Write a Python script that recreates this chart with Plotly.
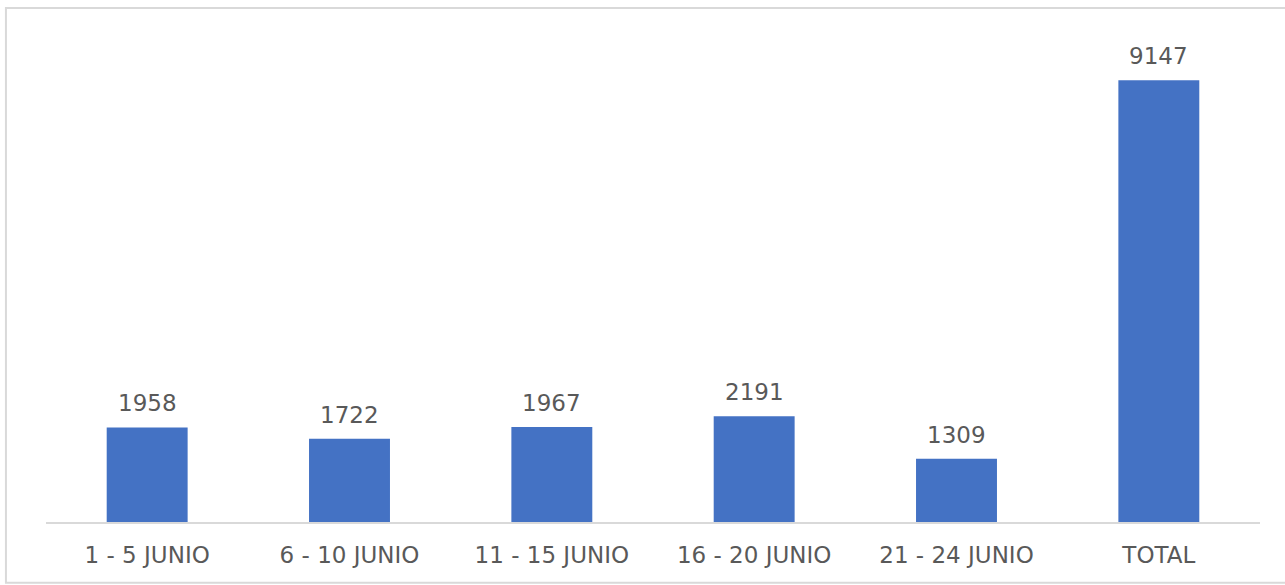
import plotly.graph_objects as go

categories = ["1 - 5 JUNIO", "6 - 10 JUNIO", "11 - 15 JUNIO", "16 - 20 JUNIO", "21 - 24 JUNIO", "TOTAL"]
values = [1958, 1722, 1967, 2191, 1309, 9147]

BAR = "#4472C4"
TXT = "#595959"
FONT = "DejaVu Sans, sans-serif"

fig = go.Figure()
fig.add_trace(go.Bar(x=categories, y=values, marker=dict(color=BAR, line=dict(width=0)), width=0.4))

for c, v in zip(categories, values):
    fig.add_annotation(x=c, y=v, text=str(v), showarrow=False, yshift=24,
                       font=dict(family=FONT, size=23, color=TXT))

# chart-area frame: left, top and bottom edges (right edge falls outside the picture)
fig.add_shape(type="path", xref="paper", yref="paper",
              path="M 1.05 1.064 L -0.033 1.064 L -0.033 -0.126 L 1.05 -0.126",
              line=dict(color="#d9d9d9", width=2), layer="below")

fig.update_layout(
    width=1285, height=585,
    margin=dict(l=46, r=25, t=39, b=63),
    plot_bgcolor="white", paper_bgcolor="white",
    showlegend=False,
    bargap=0.6,
    xaxis=dict(showline=True, linecolor="#d9d9d9", linewidth=2, ticks="", showgrid=False,
               tickfont=dict(family=FONT, size=23, color=TXT), ticklabelstandoff=11),
    yaxis=dict(range=[0, 10000], visible=False, showgrid=False),
)

fig.write_html("out.html", config={"displayModeBar": False},
               post_script="document.body.style.margin='0px';document.body.style.overflow='hidden';")
